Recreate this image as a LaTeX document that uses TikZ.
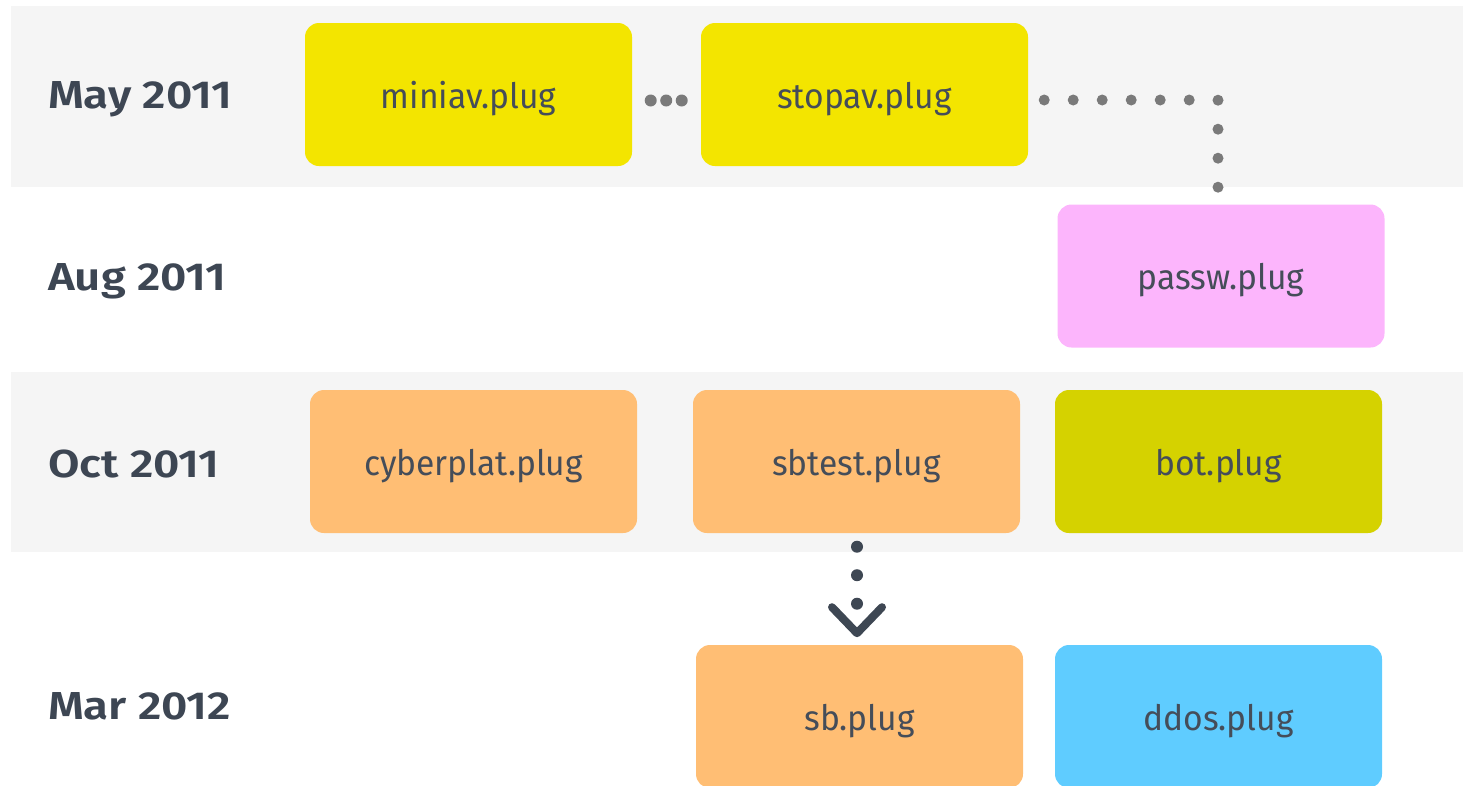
\documentclass[tikz,border=0pt]{standalone}
\usepackage{fontspec}
\setmainfont{Fira Sans}
\newfontfamily\labelfont[FakeStretch=1.17]{Fira Sans SemiBold}
\newfontfamily\plugfont[FakeStretch=0.96]{Fira Sans}
\usetikzlibrary{calc}

\definecolor{bandgray}{HTML}{F5F5F5}
\definecolor{plugyellow}{HTML}{F3E500}
\definecolor{plugpink}{HTML}{FCB5FC}
\definecolor{plugorange}{HTML}{FFBE74}
\definecolor{plugolive}{HTML}{D5D200}
\definecolor{plugblue}{HTML}{5FCCFF}
\definecolor{inktext}{HTML}{454D59}
\definecolor{inklabel}{HTML}{3D4653}
\definecolor{dotgray}{HTML}{7A7A7A}
\definecolor{arrowink}{HTML}{3E4753}

\tikzset{
  plugbox/.style={rounded corners=14pt, minimum width=327pt, minimum height=143pt,
    inner sep=0pt, text height=34pt, text depth=7pt,
    font=\plugfont\fontsize{35}{42}\selectfont, text=inktext},
  datelabel/.style={anchor=base west, inner sep=0pt,
    font=\labelfont\fontsize{39}{46}\selectfont, text=inklabel},
  linkdots/.style={draw=dotgray, line width=11pt, line cap=round,
    dash pattern=on 0pt off 29pt},
  gapdots/.style={draw=dotgray, line width=12pt, line cap=round,
    dash pattern=on 0pt off 15.5pt},
  flowdots/.style={draw=arrowink, line width=12pt, line cap=round,
    dash pattern=on 0pt off 28.5pt},
  chevron/.style={draw=arrowink, line width=8pt, line cap=round, line join=round}
}

\begin{document}
\begin{tikzpicture}[x=1pt, y=-1pt]
  \useasboundingbox (0,0) rectangle (1463,785);
  \clip (0,0) rectangle (1463,785);

  % shaded rows
  \fill[bandgray] (11,6) rectangle (1463,187);
  \fill[bandgray] (11,372) rectangle (1463,552);

  % row labels
  \node[datelabel] (lmay) at (48,108) {May 2011};
  \node[datelabel] (laug) at (48,290) {Aug 2011};
  \node[datelabel] (loct) at (48,477) {Oct 2011};
  \node[datelabel] (lmar) at (48,719) {Mar 2012};

  % plugins
  \node[plugbox, fill=plugyellow] (miniav) at (468.5,94.5) {miniav.plug};
  \node[plugbox, fill=plugyellow] (stopav) at (864.5,94.5) {stopav.plug};
  \node[plugbox, fill=plugpink] (passw) at (1221,276) {passw.plug};
  \node[plugbox, fill=plugorange] (cyberplat) at (473.5,461.5) {cyberplat.plug};
  \node[plugbox, fill=plugorange] (sbtest) at (856.5,461.5) {sbtest.plug};
  \node[plugbox, fill=plugolive] (bot) at (1218.5,461.5) {bot.plug};
  \node[plugbox, fill=plugorange] (sb) at (859.5,716.5) {sb.plug};
  \node[plugbox, fill=plugblue] (ddos) at (1218.5,716.5) {ddos.plug};

  % connectors (each path runs a hair past its last dot so that dot is kept)
  \draw[gapdots] ($(miniav.east)+(18.5,6)$) -- ($(stopav.west)+(-18.5,6)$);
  \draw[linkdots] ($(stopav.east)+(16,5.5)$) -| ($(passw.north)+(-3,-17)$);
  \draw[flowdots] ($(sbtest.south)+(0.5,13.5)$) -- ($(sbtest.south)+(0.5,71.5)$);
  \draw[chevron] ($(sbtest.south)+(-24.5,74)$) -- ($(sbtest.south)+(0.5,100)$)
    -- ($(sbtest.south)+(25.5,74)$);
\end{tikzpicture}
\end{document}
